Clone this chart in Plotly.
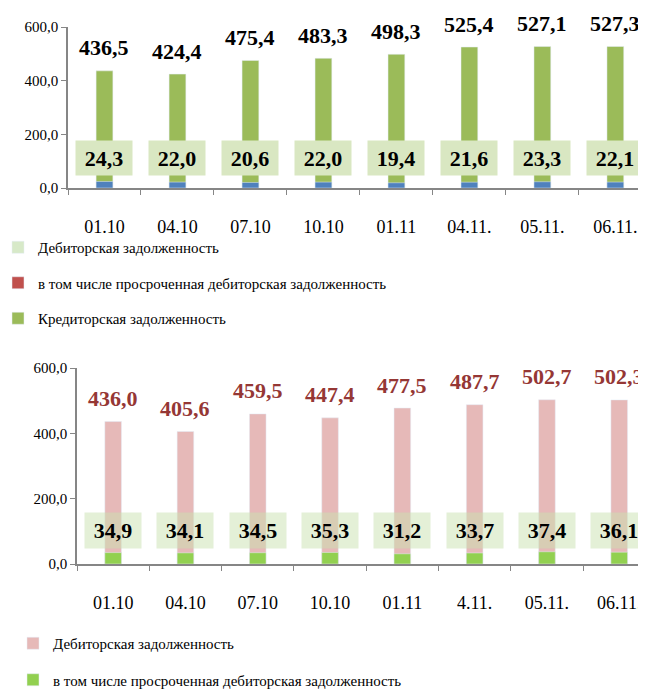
import plotly.graph_objects as go

# Top chart data
dates_top = ['01.10', '04.10', '07.10', '10.10', '01.11', '04.11.', '05.11.', '06.11.']
kredit = [436.5, 424.4, 475.4, 483.3, 498.3, 525.4, 527.1, 527.3]
small_top = [24.3, 22.0, 20.6, 22.0, 19.4, 21.6, 23.3, 22.1]

# Bottom chart data
dates_bot = ['01.10', '04.10', '07.10', '10.10', '01.11', '4.11.', '05.11.', '06.11.']
debit = [436.0, 405.6, 459.5, 447.4, 477.5, 487.7, 502.7, 502.3]
prosr = [34.9, 34.1, 34.5, 35.3, 31.2, 33.7, 37.4, 36.1]

serif = 'Liberation Serif, DejaVu Serif, serif'
axis_grey = '#868686'
box_y = 110  # vertical position of the small value boxes (data units)
W, H = 646, 689
off = 8  # page body margin


def fmt(v):
    return f'{v:.1f}'.replace('.', ',')


fig = go.Figure()

# ---- top chart ----
fig.add_trace(go.Bar(x=dates_top, y=kredit, name='Кредиторская задолженность',
                     marker_color='#9bbb59', width=0.23, legend='legend',
                     legendgroup='t3', legendrank=3, xaxis='x', yaxis='y'))
fig.add_trace(go.Bar(x=dates_top, y=small_top, name='small', showlegend=False,
                     marker_color='#4f81bd', width=0.23, xaxis='x', yaxis='y'))
fig.add_trace(go.Bar(x=dates_top, y=[None] * len(dates_top), name='Дебиторская задолженность',
                     marker_color='#d7e9c8', legend='legend', legendgroup='t1', legendrank=1,
                     xaxis='x', yaxis='y'))
fig.add_trace(go.Bar(x=dates_top, y=[None] * len(dates_top),
                     name='в том числе просроченная дебиторская задолженность',
                     marker_color='#c0504d', legend='legend', legendgroup='t2', legendrank=2,
                     xaxis='x', yaxis='y'))

# ---- bottom chart ----
fig.add_trace(go.Bar(x=dates_bot, y=debit, name='Дебиторская задолженность',
                     marker_color='#e6b9b8', width=0.23, legend='legend2',
                     legendgroup='b1', xaxis='x2', yaxis='y2'))
fig.add_trace(go.Bar(x=dates_bot, y=prosr, name='в том числе просроченная дебиторская задолженность',
                     marker_color='#92d050', width=0.23, legend='legend2',
                     legendgroup='b2', xaxis='x2', yaxis='y2'))

annotations = []
bold_black = dict(family=serif, size=22, color='black', weight='bold')
for i, (v, s) in enumerate(zip(kredit, small_top)):
    annotations.append(dict(x=i, y=v, xref='x', yref='y', text=fmt(v),
                            showarrow=False, yshift=23, font=bold_black))
    annotations.append(dict(x=i, y=box_y, xref='x', yref='y', text=fmt(s),
                            showarrow=False, width=54, height=32, bgcolor='#d9e7c2',
                            font=bold_black))
for i, (v, s) in enumerate(zip(debit, prosr)):
    annotations.append(dict(x=i, y=v, xref='x2', yref='y2', text=fmt(v),
                            showarrow=False, yshift=23,
                            font=dict(family=serif, size=22, color='#953735', weight='bold')))
    annotations.append(dict(x=i, y=box_y - 6, xref='x2', yref='y2', text=fmt(s),
                            showarrow=False, width=54, height=33,
                            bgcolor='rgba(201,225,175,0.5)', font=bold_black))

xaxis_common = dict(type='category', showline=True, linecolor=axis_grey, linewidth=1.5,
                    ticks='outside', tickson='boundaries', ticklen=5, tickcolor=axis_grey,
                    showgrid=False, zeroline=False, ticklabelstandoff=22,
                    tickfont=dict(family=serif, size=18, color='black'))
yaxis_common = dict(range=[0, 600], tickvals=[0, 200, 400, 600],
                    ticktext=['0,0', '200,0', '400,0', '600,0'],
                    showline=True, linecolor=axis_grey, linewidth=1.5, ticks='outside',
                    ticklen=5, tickcolor=axis_grey, showgrid=False, zeroline=False,
                    tickfont=dict(family=serif, size=15, color='black'))

fig.update_layout(
    width=W, height=H,
    margin=dict(l=0, r=0, t=0, b=0, autoexpand=False),
    paper_bgcolor='white', plot_bgcolor='white',
    barmode='overlay', bargap=0.77,
    xaxis=dict(xaxis_common, domain=[(68 - off) / W, (W - off) / W], range=[-0.5, 7.42], anchor='y'),
    yaxis=dict(yaxis_common, domain=[1 - (188 - off) / H, 1 - (27 - off) / H], anchor='x'),
    xaxis2=dict(xaxis_common, domain=[(77 - off) / W, (W - off) / W], range=[-0.5, 7.37], anchor='y2'),
    yaxis2=dict(yaxis_common, domain=[1 - (564 - off) / H, 1 - (368 - off) / H], anchor='x2'),
    legend=dict(x=-10 / W, xanchor='left', y=1 - 223 / H, yanchor='top',
                traceorder='grouped', tracegroupgap=13, itemwidth=30,
                font=dict(family=serif, size=15, color='black'), bgcolor='rgba(0,0,0,0)'),
    legend2=dict(x=5 / W, xanchor='left', y=1 - 619 / H, yanchor='top',
                 traceorder='grouped', tracegroupgap=14, itemwidth=30,
                 font=dict(family=serif, size=15, color='black'), bgcolor='rgba(0,0,0,0)'),
    annotations=annotations,
)

fig.write_html('out.html')
